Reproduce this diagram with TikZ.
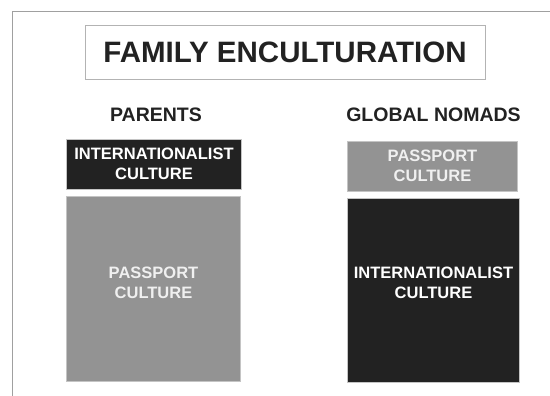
\documentclass[tikz,border=0pt]{standalone}
\usepackage{fontspec}
\setmainfont{Liberation Sans}
\definecolor{inkdark}{HTML}{222222}
\definecolor{midgray}{HTML}{939393}
\definecolor{edgegray}{HTML}{C4C4C4}
\definecolor{framegray}{HTML}{A0A0A0}
\begin{document}
\begin{tikzpicture}[x=1pt,y=-1pt,
  heading/.style={font=\bfseries\fontsize{19.5}{22}\selectfont, text=inkdark, inner sep=0pt},
  block/.style={draw=edgegray, line width=0.8pt, inner sep=0pt},
  darkblock/.style={block, fill=inkdark},
  greyblock/.style={block, fill=midgray},
  blocktext/.style={font=\bfseries\fontsize{16.5}{20}\selectfont, align=center, inner sep=0pt},
]
\useasboundingbox (0,0) rectangle (550,396);
\fill[white] (0,0) rectangle (550,396);

% outer frame (top and left edges only)
\draw[framegray, line width=1pt] (12,396) -- (12,12) -- (550,12);

% title
\node[draw=framegray!80, line width=0.8pt, minimum width=400pt, minimum height=54pt, inner sep=0pt] (title) at (285,52) {};
\node[font=\bfseries\fontsize{29.5}{32}\selectfont, text=inkdark, inner sep=0pt] (titletext) at (title.center) {FAMILY ENCULTURATION};

% column headings
\node[heading] (parents) at (156,115) {PARENTS};
\node[heading] (nomads) at (433.5,115) {GLOBAL NOMADS};

% parents column
\node[darkblock, minimum width=175pt, minimum height=50.5pt] (pint) at (154,164.25) {};
\node[blocktext, text=white] (pinttext) at (pint.center) {INTERNATIONALIST\\CULTURE};
\node[greyblock, minimum width=174pt, minimum height=185pt] (ppass) at (153.5,288.5) {};
\node[blocktext, text=white!94!black] (ppasstext) at ([yshift=6pt]ppass.center) {PASSPORT\\CULTURE};

% global nomads column
\node[greyblock, minimum width=170pt, minimum height=50.5pt] (npass) at (432.5,166.25) {};
\node[blocktext, text=white!94!black] (npasstext) at (npass.center) {PASSPORT\\CULTURE};
\node[darkblock, minimum width=172pt, minimum height=184pt] (nint) at (433.5,290) {};
\node[blocktext, text=white] (ninttext) at ([yshift=7.5pt]nint.center) {INTERNATIONALIST\\CULTURE};
\end{tikzpicture}
\end{document}
